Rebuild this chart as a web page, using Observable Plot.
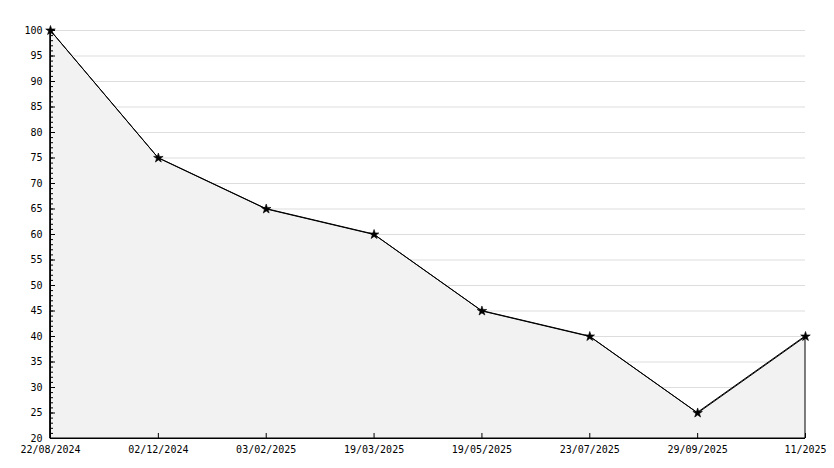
<!DOCTYPE html>
<html>
<head>
<meta charset="utf-8">
<script src="https://cdn.jsdelivr.net/npm/d3@7"></script>
<script src="https://cdn.jsdelivr.net/npm/@observablehq/plot@0.6"></script>
<style>
  html, body { margin: 0; padding: 0; background: #fff; }
  svg { display: block; }
</style>
</head>
<body>
<div id="chart"></div>
<script>
const labels = ["22/08/2024", "02/12/2024", "03/02/2025", "19/03/2025", "19/05/2025", "23/07/2025", "29/09/2025", "11/2025"];
const values = [100, 75, 65, 60, 45, 40, 25, 40];
const yMajorTicks = d3.range(20, 101, 5);
const yMinorTicks = d3.range(20, 101, 1);
const yGridTicks = d3.range(25, 101, 5);

const data = labels.map((label, i) => ({label, value: values[i]}));

const chart = Plot.plot({
  width: 834,
  height: 468,
  marginLeft: 50,
  marginRight: 29,
  marginTop: 30,
  marginBottom: 30,
  style: {fontFamily: "'DejaVu Sans Mono', monospace", fontSize: "10px", color: "#000", background: "#fff"},
  x: {type: "point", domain: labels, range: [50, 805], padding: 0, round: false},
  y: {domain: [20, 100]},
  marks: [
    Plot.gridY(yGridTicks, {stroke: "#dddddd", strokeOpacity: 1}),
    Plot.areaY(data, {x: "label", y1: 20, y2: "value", fill: "#f2f2f2", stroke: "#000", strokeWidth: 1, curve: "linear"}),
    Plot.axisY(yMinorTicks, {tickSize: -3, tickFormat: () => "", label: null}),
    Plot.axisY(yMajorTicks, {tickSize: -5, tickPadding: 13, tickFormat: d => String(d), label: null}),
    Plot.axisX(labels, {tickSize: -5, tickPadding: 12, label: null}),
    Plot.ruleX([labels[0]], {y1: 20, y2: 100, stroke: "#000"}),
    Plot.ruleY([20], {stroke: "#000"}),
    Plot.line(data, {x: "label", y: "value", stroke: "#000", strokeWidth: 1}),
    Plot.dot(data, {x: "label", y: "value", symbol: "star", r: 3, fill: "#000", stroke: "#000", strokeWidth: 0.6})
  ]
});
document.getElementById("chart").appendChild(chart);
</script>
</body>
</html>
